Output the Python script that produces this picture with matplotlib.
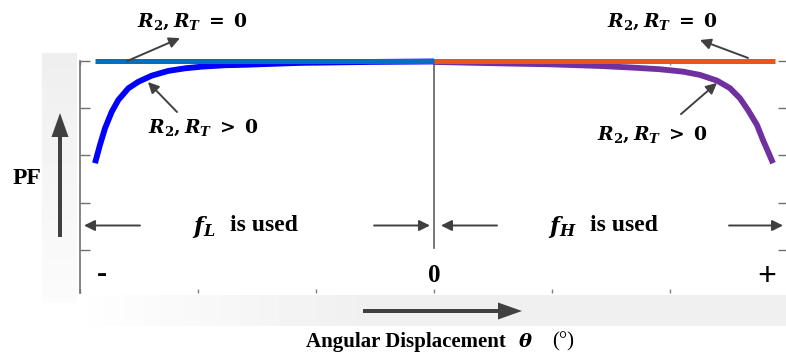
import matplotlib
matplotlib.use("Agg")
import matplotlib.pyplot as plt
import numpy as np

# PF vs angular displacement, two branches meeting at theta = 0
flat_left_x = [-2.873, 0.0]
flat_right_x = [0.0, 2.890]
flat_y = [1.0, 1.0]

low_x = [-2.873, -2.831, -2.788, -2.731, -2.675, -2.591, -2.506, -2.392,
         -2.252, -2.110, -1.969, -1.771, -1.602, -1.136, -0.542, 0.0]
low_y = [0.567, 0.644, 0.715, 0.785, 0.835, 0.884, 0.912, 0.938,
         0.958, 0.969, 0.976, 0.982, 0.984, 0.992, 0.996, 0.998]

high_x = [0.0, 0.559, 0.983, 1.407, 1.686, 1.915, 2.110, 2.254,
          2.398, 2.508, 2.593, 2.661, 2.737, 2.788, 2.831, 2.873]
high_y = [0.996, 0.990, 0.986, 0.979, 0.972, 0.965, 0.955, 0.941,
          0.917, 0.885, 0.842, 0.792, 0.729, 0.665, 0.616, 0.567]

x_ticks = [-3, -2, -1, 0, 1, 2, 3]
y_ticks = [0.2, 0.4, 0.6, 0.8, 1.0]

plt.rcParams["font.family"] = ["Liberation Serif", "DejaVu Serif"]
plt.rcParams["font.weight"] = "bold"
plt.rcParams["mathtext.fontset"] = "custom"
plt.rcParams["mathtext.rm"] = "DejaVu Serif:bold"
plt.rcParams["mathtext.bf"] = "DejaVu Serif:bold"
plt.rcParams["mathtext.it"] = "DejaVu Serif:italic:bold"

W, H = 786, 363
fig = plt.figure(figsize=(W / 100, H / 100), dpi=100)

# background layer in pixel units: shaded bands, big arrows, outer labels
bg = fig.add_axes([0, 0, 1, 1], zorder=0)
bg.set_xlim(0, W)
bg.set_ylim(H, 0)
bg.axis("off")

vgrad = np.linspace(0.935, 0.985, 64).reshape(-1, 1)
bg.imshow(vgrad, cmap="gray", vmin=0, vmax=1, extent=(42, 77, 303, 53),
          aspect="auto", interpolation="bilinear")
hgrad = np.concatenate([np.linspace(0.995, 0.94, 40), np.full(60, 0.94)]).reshape(1, -1)
bg.imshow(hgrad, cmap="gray", vmin=0, vmax=1, extent=(87, 786, 326, 295),
          aspect="auto", interpolation="bilinear")

bg.arrow(60, 237, 0, -124, width=4, head_width=17, head_length=24,
         length_includes_head=True, color="#404040", lw=0)
bg.arrow(363, 311, 159, 0, width=4, head_width=17, head_length=24,
         length_includes_head=True, color="#404040", lw=0)

bg.text(27, 179, "PF", fontsize=17, ha="center", va="center")
bg.text(506, 342, "Angular Displacement", fontsize=15, ha="right", va="center")
bg.text(525, 342, r"$\theta$", fontsize=14, ha="center", va="center")
bg.text(563, 342, "(°)", fontsize=15, ha="center", va="center",
        fontweight="normal")

# main axes, right edge runs just past the figure
ax = fig.add_axes([80 / W, 1 - 293 / H, 708 / W, 232 / H], zorder=1)
ax.patch.set_alpha(0)
ax.set_xlim(-3, 3)
ax.set_ylim(0.017, 1.0)
ax.set_xticks(x_ticks)
ax.set_yticks(y_ticks)
ax.set_xticklabels([])
ax.set_yticklabels([])
for side in ["top", "right", "bottom"]:
    ax.spines[side].set_visible(False)
ax.spines["left"].set_color("#707070")
ax.spines["left"].set_linewidth(1.2)
ax.tick_params(axis="y", direction="in", length=7, width=1, color="#707070",
               left=True, right=True)
ax.tick_params(axis="x", direction="in", length=3, width=1, color="#808080",
               bottom=True, top=True)

line_kw = dict(solid_capstyle="butt", solid_joinstyle="round", clip_on=False)
ax.plot(flat_left_x, flat_y, color="#0070c0", lw=3.6, zorder=3, **line_kw)
ax.plot(flat_right_x, flat_y, color="#e8561c", lw=3.6, zorder=3, **line_kw)
ax.plot(low_x, low_y, color="#0000ff", lw=4.2, zorder=2, **line_kw)
ax.plot(high_x, high_y, color="#7030a0", lw=4.2, zorder=2, **line_kw)

ax.plot([0, 0], [1.0, 0.208], color="#606060", lw=1.2, zorder=1)

arrow_kw = dict(arrowstyle="-|>", color="#404040", lw=1.4,
                mutation_scale=16, shrinkA=0, shrinkB=0)
lab_kw = dict(fontsize=13.5, ha="center", va="center")

ax.annotate("", xy=(-2.153, 1.097), xytext=(-2.60, 1.0),
            arrowprops=arrow_kw, annotation_clip=False)
ax.text(-2.05, 1.165, r"$R_2, R_T\;=\;0$", clip_on=False, **lab_kw)

ax.annotate("", xy=(-2.424, 0.911), xytext=(-2.178, 0.784), arrowprops=arrow_kw)
ax.text(-1.958, 0.716, r"$R_2, R_T\;>\;0$", **lab_kw)

ax.annotate("", xy=(2.254, 1.089), xytext=(2.661, 1.013),
            arrowprops=arrow_kw, annotation_clip=False)
ax.text(1.932, 1.165, r"$R_2, R_T\;=\;0$", **lab_kw)

ax.annotate("", xy=(2.398, 0.907), xytext=(2.093, 0.775), arrowprops=arrow_kw)
ax.text(1.847, 0.686, r"$R_2, R_T\;>\;0$", **lab_kw)

# operating ranges for each frequency
ax.annotate("", xy=(-2.966, 0.303), xytext=(-2.492, 0.303), arrowprops=arrow_kw)
ax.annotate("", xy=(-0.034, 0.303), xytext=(-0.508, 0.303), arrowprops=arrow_kw)
ax.annotate("", xy=(0.059, 0.303), xytext=(0.534, 0.303), arrowprops=arrow_kw)
ax.annotate("", xy=(2.958, 0.303), xytext=(2.5, 0.303), arrowprops=arrow_kw)
ax.text(-1.949, 0.298, r"$f_L$", fontsize=16.5, ha="center", va="center")
ax.text(-1.729, 0.305, "is used", fontsize=17, ha="left", va="center")
ax.text(1.085, 0.298, r"$f_H$", fontsize=16.5, ha="center", va="center")
ax.text(1.322, 0.305, "is used", fontsize=17, ha="left", va="center")

ax.text(-2.814, 0.097, "-", fontsize=22, ha="center", va="center")
ax.text(0.0, 0.093, "0", fontsize=18, ha="center", va="center")
ax.text(2.822, 0.087, "+", fontsize=24, ha="center", va="center")

fig.savefig("out.png", dpi=100)
